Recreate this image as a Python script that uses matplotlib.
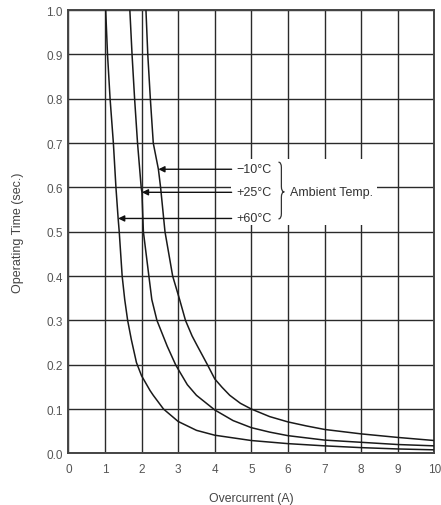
import numpy as np
import matplotlib
matplotlib.use("Agg")
import matplotlib.pyplot as plt
from matplotlib.path import Path
from matplotlib.patches import PathPatch, Rectangle

plt.rcParams['font.family'] = ['Liberation Sans', 'DejaVu Sans']

# curve data: (overcurrent A, operating time s)
x_m10 = [2.12, 2.17, 2.24, 2.32, 2.46, 2.52, 2.64, 2.85, 3.04, 3.2, 3.38, 3.52, 3.67, 3.8,
         4.0, 4.2, 4.41, 4.7, 5.0, 5.5, 6.0, 6.5, 7.0, 8.0, 9.0, 10.0]
y_m10 = [1.0, 0.9, 0.8, 0.7, 0.641, 0.6, 0.5, 0.4, 0.347, 0.3, 0.265, 0.243, 0.22, 0.2,
         0.168, 0.149, 0.131, 0.113, 0.1, 0.083, 0.071, 0.062, 0.054, 0.044, 0.036, 0.029]

x_p25 = [1.68, 1.74, 1.81, 1.89, 1.99, 2.01, 2.05, 2.2, 2.28, 2.42, 2.7, 2.93, 3.0, 3.25,
         3.5, 4.0, 4.5, 5.0, 5.5, 6.0, 7.0, 8.0, 9.0, 10.0]
y_p25 = [1.0, 0.9, 0.8, 0.7, 0.6, 0.589, 0.5, 0.4, 0.347, 0.3, 0.242, 0.2, 0.19, 0.155,
         0.131, 0.098, 0.074, 0.058, 0.048, 0.04, 0.03, 0.025, 0.02, 0.017]

x_p60 = [1.02, 1.07, 1.14, 1.23, 1.30, 1.36, 1.39, 1.47, 1.54, 1.62, 1.72, 1.86, 2.0, 2.05,
         2.23, 2.32, 2.6, 3.0, 3.5, 4.0, 4.5, 5.0, 6.0, 7.0, 8.0, 9.0, 10.0]
y_p60 = [1.0, 0.9, 0.8, 0.7, 0.6, 0.53, 0.5, 0.4, 0.347, 0.3, 0.257, 0.205, 0.175, 0.168,
         0.142, 0.131, 0.1, 0.072, 0.052, 0.041, 0.035, 0.029, 0.022, 0.017, 0.013, 0.01, 0.008]

labels = ['\u221210\u00b0C', '+25\u00b0C', '+60\u00b0C']
label_y = [0.641, 0.589, 0.53]
x_ticks = list(range(0, 11))
y_ticks = [0.0, 0.1, 0.2, 0.3, 0.4, 0.5, 0.6, 0.7, 0.8, 0.9, 1.0]

fig = plt.figure(figsize=(4.41, 5.06), dpi=100)
ax = fig.add_axes([0.155, 0.102, 0.83, 0.876])

ax.set_xlim(0, 10)
ax.set_ylim(0, 1.0)
ax.set_xticks(x_ticks)
ax.set_yticks(y_ticks)
ax.set_xticklabels([str(v) for v in x_ticks])
ax.set_yticklabels(['%.1f' % v for v in y_ticks])
ax.tick_params(length=0, labelsize=8.5, labelcolor='#555555')
ax.tick_params(axis='x', pad=7)
ax.tick_params(axis='y', pad=4)
ax.grid(True, color='#2a2a2a', lw=1.0)
ax.set_axisbelow(True)
for s in ax.spines.values():
    s.set_color('#444444')
    s.set_linewidth(1.4)

curves = [(x_m10, y_m10), (x_p25, y_p25), (x_p60, y_p60)]
for cx, cy in curves:
    ax.plot(cx, cy, color='#1a1a1a', lw=1.1, zorder=3,
            solid_joinstyle='round', solid_capstyle='butt')

# white patch behind the labels
ax.add_patch(Rectangle((4.45, 0.515), 3.98, 0.15, facecolor='white',
                       edgecolor='none', zorder=2))

for (cx, cy), lab, ly in zip(curves, labels, label_y):
    tx = np.interp(ly, cy[::-1], cx[::-1])
    ax.annotate('', xy=(tx, ly), xytext=(4.46, ly),
                arrowprops=dict(arrowstyle='-|>', color='#111111', lw=1.0,
                                mutation_scale=9, shrinkA=0, shrinkB=0),
                zorder=4)
    ax.text(4.58, ly, lab, fontsize=9, va='center', ha='left', color='#333333', zorder=5)

# brace
xl, xm, xr = 5.74, 5.82, 5.90
yt, yc, yb = 0.657, 0.590, 0.529
r = 0.012
verts = [(xl, yt), (xm, yt), (xm, yt - r),
         (xm, yc + r),
         (xm, yc), (xr, yc),
         (xm, yc), (xm, yc - r),
         (xm, yb + r),
         (xm, yb), (xl, yb)]
codes = [Path.MOVETO, Path.CURVE3, Path.CURVE3,
         Path.LINETO,
         Path.CURVE3, Path.CURVE3,
         Path.CURVE3, Path.CURVE3,
         Path.LINETO,
         Path.CURVE3, Path.CURVE3]
ax.add_patch(PathPatch(Path(verts, codes), facecolor='none', edgecolor='#333333',
                       lw=0.9, zorder=5))
ax.text(6.05, 0.589, 'Ambient Temp.', fontsize=9, va='center', ha='left',
        color='#333333', zorder=5)

ax.set_xlabel('Overcurrent (A)', fontsize=8.8, color='#444444', labelpad=12)
ax.set_ylabel('Operating Time (sec.)', fontsize=9, color='#444444', labelpad=16)

fig.savefig('out.png', dpi=100)
